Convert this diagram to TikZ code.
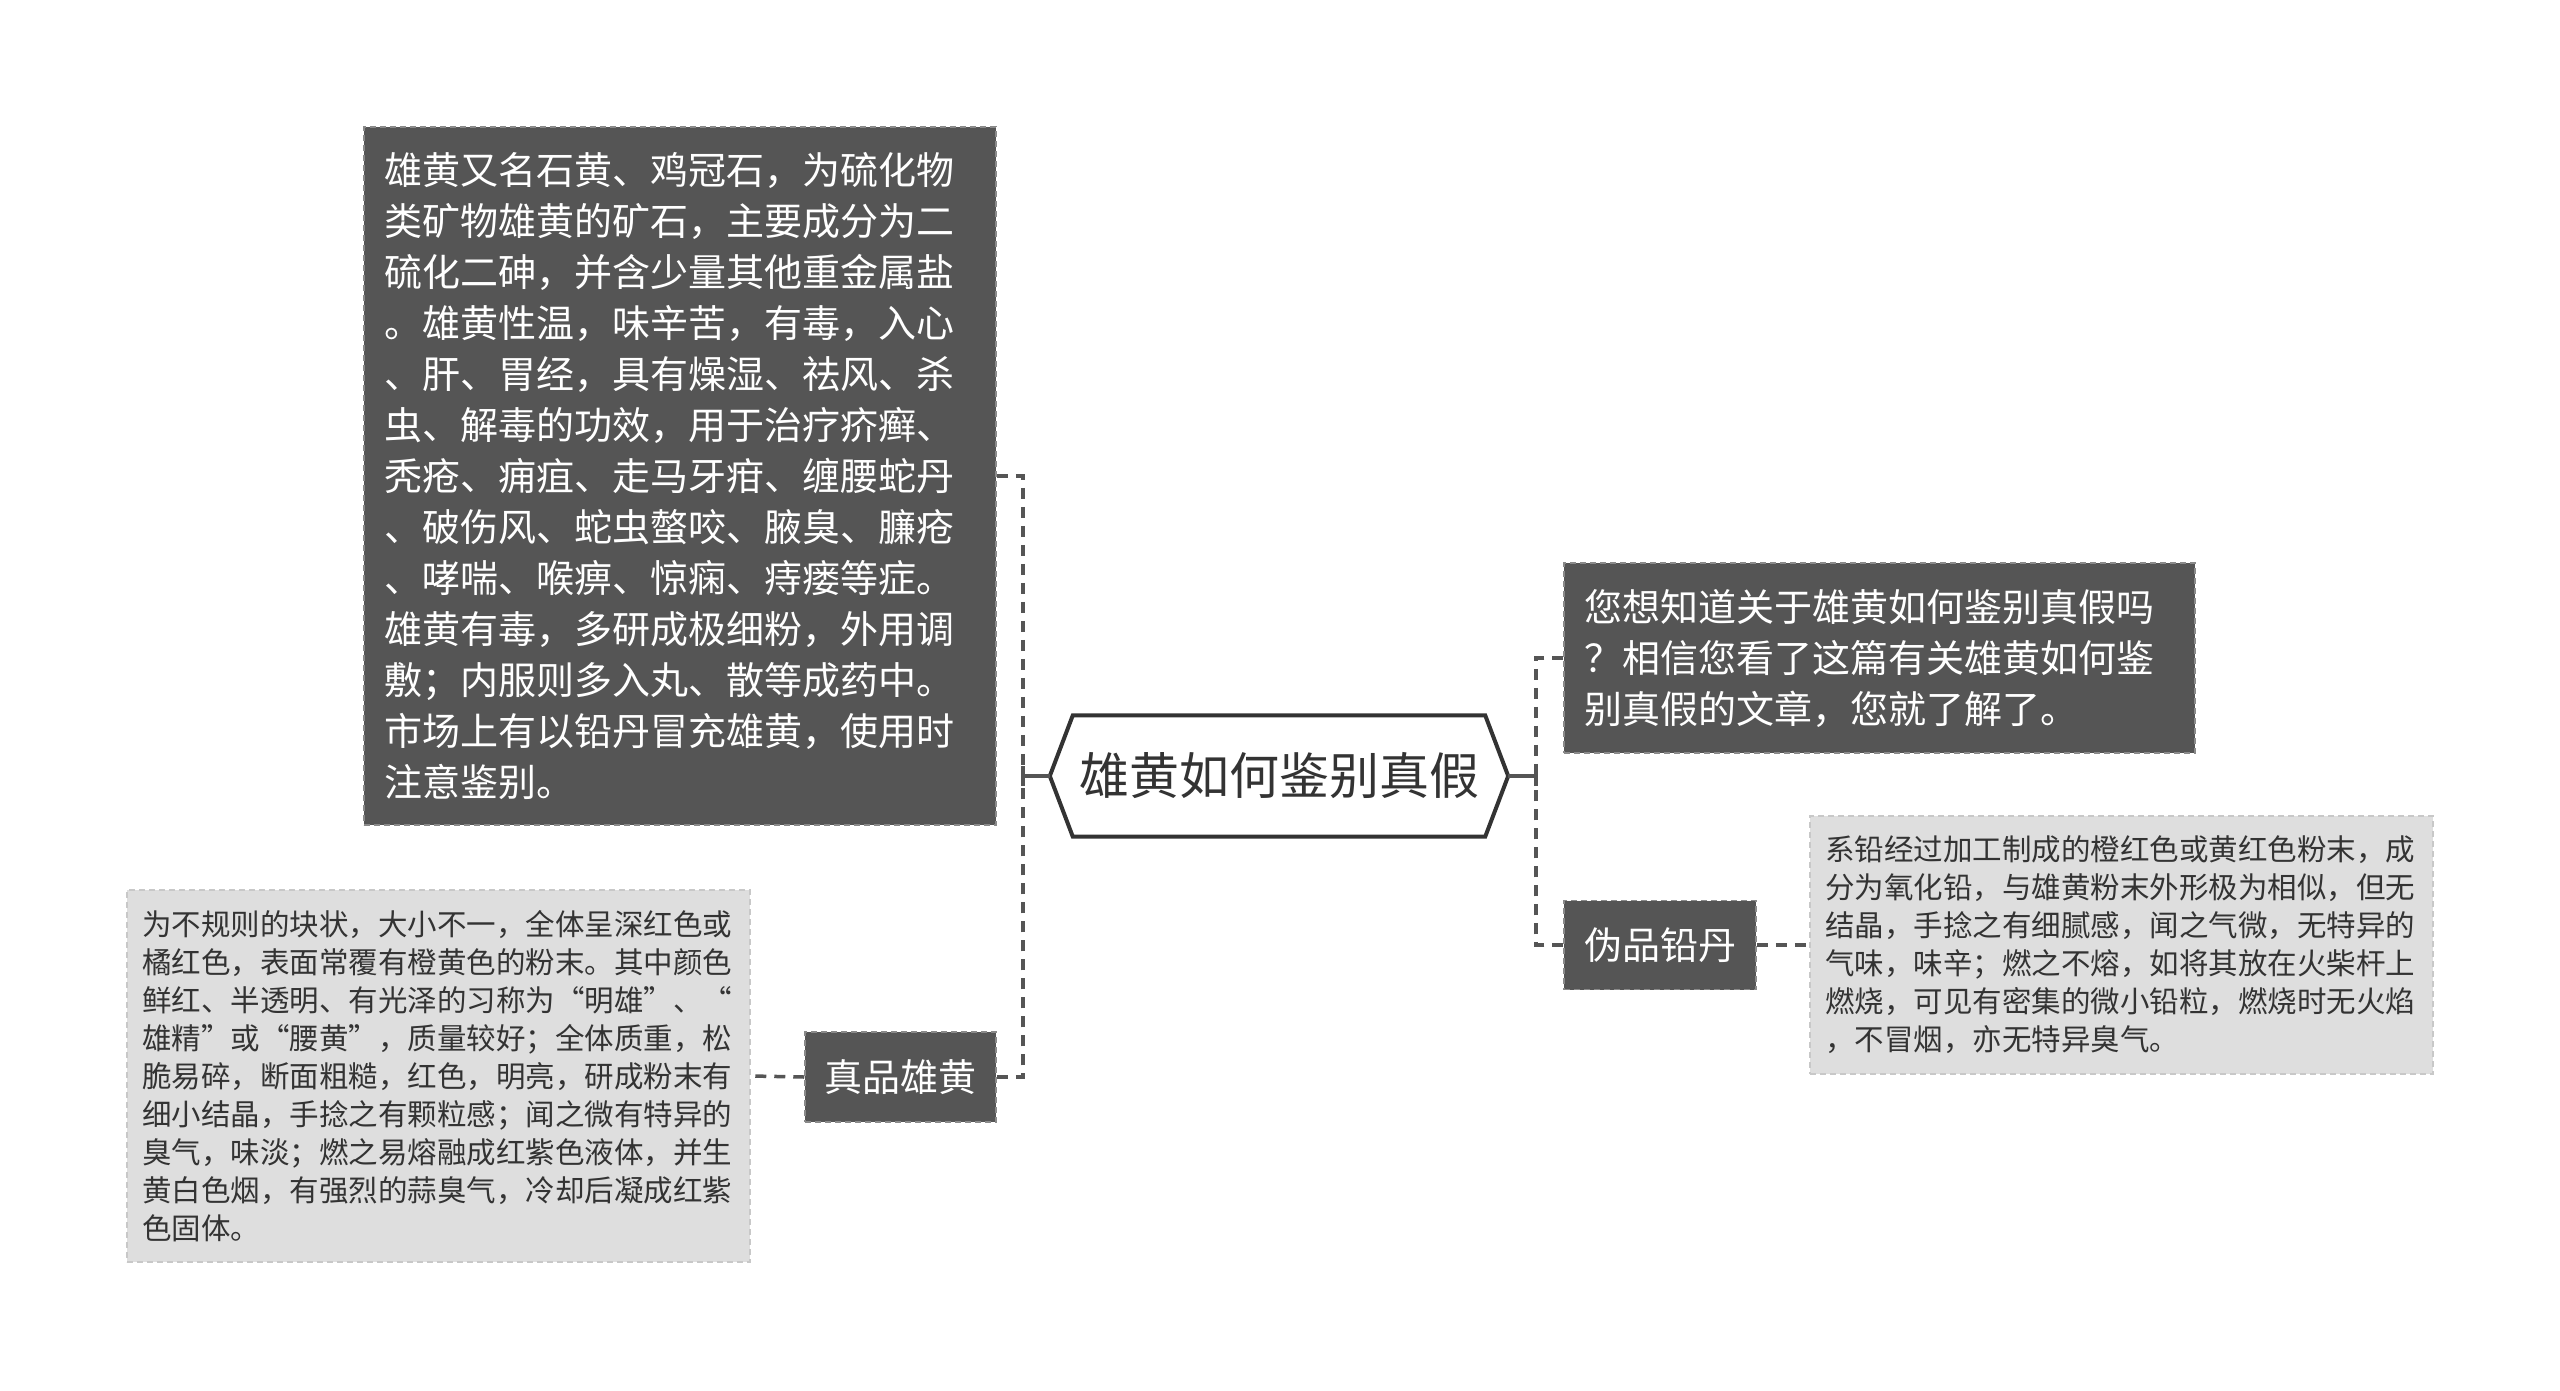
\documentclass[tikz,border=0pt]{standalone}
\usepackage{fontspec}
\setmainfont{Noto Sans CJK SC}
\definecolor{darkfill}{HTML}{555555}
\definecolor{lightfill}{HTML}{DEDEDE}
\definecolor{linec}{HTML}{555555}
\definecolor{textdark}{HTML}{333333}
\definecolor{borderdark}{HTML}{8A8A8A}
\definecolor{borderlight}{HTML}{C8C8C8}
\begin{document}
\begin{tikzpicture}[x=1pt,y=-1pt,
  darkbox/.style={fill=darkfill, draw=borderdark, line width=1.5pt, dash pattern=on 6pt off 4pt, text=white, align=left, inner sep=0pt},
  lightbox/.style={fill=lightfill, draw=borderlight, line width=1.5pt, dash pattern=on 6pt off 4pt, text=textdark, align=left, inner sep=0pt},
  bigfont/.style={font=\fontsize{38pt}{51pt}\selectfont},
  smallfont/.style={font=\fontsize{29.5pt}{38pt}\selectfont},
  conn/.style={draw=linec, line width=3.5pt, dash pattern=on 11pt off 8pt},
  stub/.style={draw=linec, line width=3.5pt},
  hexline/.style={draw=textdark, line width=4pt, line join=miter}
]
\fill[white] (0,0) rectangle (2560,1390);
\useasboundingbox (0,0) rectangle (2560,1390);

% root
\node[inner sep=0pt, minimum width=458pt, minimum height=121pt, text=textdark, font=\fontsize{50pt}{60pt}\selectfont] (root) at (1279,776) {雄黄如何鉴别真假};
\draw[hexline] (root.west) -- ([xshift=23pt]root.north west) -- ([xshift=-23pt]root.north east) -- (root.east) -- ([xshift=-23pt]root.south east) -- ([xshift=23pt]root.south west) -- cycle;

% left side
\node[darkbox, bigfont, minimum width=632pt, minimum height=698pt, text width=592pt] (intro) at (680,476) {雄黄又名石黄、鸡冠石，为硫化物\\类矿物雄黄的矿石，主要成分为二\\硫化二砷，并含少量其他重金属盐\\。雄黄性温，味辛苦，有毒，入心\\、肝、胃经，具有燥湿、祛风、杀\\虫、解毒的功效，用于治疗疥癣、\\秃疮、痈疽、走马牙疳、缠腰蛇丹\\、破伤风、蛇虫螫咬、腋臭、臁疮\\、哮喘、喉痹、惊痫、痔瘘等症。\\雄黄有毒，多研成极细粉，外用调\\敷；内服则多入丸、散等成药中。\\市场上有以铅丹冒充雄黄，使用时\\注意鉴别。};

\node[darkbox, bigfont, minimum width=191pt, minimum height=90pt] (zhen) at (900.5,1077) {真品雄黄};

\node[lightbox, smallfont, minimum width=623pt, minimum height=372pt, text width=593pt] (zhendesc) at (438.5,1076) {为不规则的块状，大小不一，全体呈深红色或\\橘红色，表面常覆有橙黄色的粉末。其中颜色\\鲜红、半透明、有光泽的习称为“明雄”、“\\雄精”或“腰黄”，质量较好；全体质重，松\\脆易碎，断面粗糙，红色，明亮，研成粉末有\\细小结晶，手捻之有颗粒感；闻之微有特异的\\臭气，味淡；燃之易熔融成红紫色液体，并生\\黄白色烟，有强烈的蒜臭气，冷却后凝成红紫\\色固体。};

% right side
\node[darkbox, bigfont, minimum width=631pt, minimum height=190pt, text width=591pt] (ask) at (1879.5,658) {您想知道关于雄黄如何鉴别真假吗\\？相信您看了这篇有关雄黄如何鉴\\别真假的文章，您就了解了。};

\node[darkbox, bigfont, minimum width=192pt, minimum height=89pt] (wei) at (1660,945) {伪品铅丹};

\node[lightbox, smallfont, minimum width=623pt, minimum height=258pt, text width=593pt] (weidesc) at (2121.5,945) {系铅经过加工制成的橙红色或黄红色粉末，成\\分为氧化铅，与雄黄粉末外形极为相似，但无\\结晶，手捻之有细腻感，闻之气微，无特异的\\气味，味辛；燃之不熔，如将其放在火柴杆上\\燃烧，可见有密集的微小铅粒，燃烧时无火焰\\，不冒烟，亦无特异臭气。};

% junctions
\coordinate (ljunc) at (1023,776);
\coordinate (rjunc) at (1536,776);

% connectors left
\draw[stub] (root.west) -- (ljunc);
\draw[stub] ([yshift=-10pt]ljunc) -- ([yshift=10pt]ljunc);
\draw[conn] (intro.east) -| (ljunc);
\draw[conn] (zhen.east) -| (ljunc);
\draw[conn] (zhen.west) -- (zhendesc.east);

% connectors right
\draw[stub] (root.east) -- (rjunc);
\draw[stub] ([yshift=-10pt]rjunc) -- ([yshift=10pt]rjunc);
\draw[conn] (ask.west) -| (rjunc);
\draw[conn] (wei.west) -| (rjunc);
\draw[conn] (wei.east) -- (weidesc.west);
\end{tikzpicture}
\end{document}
